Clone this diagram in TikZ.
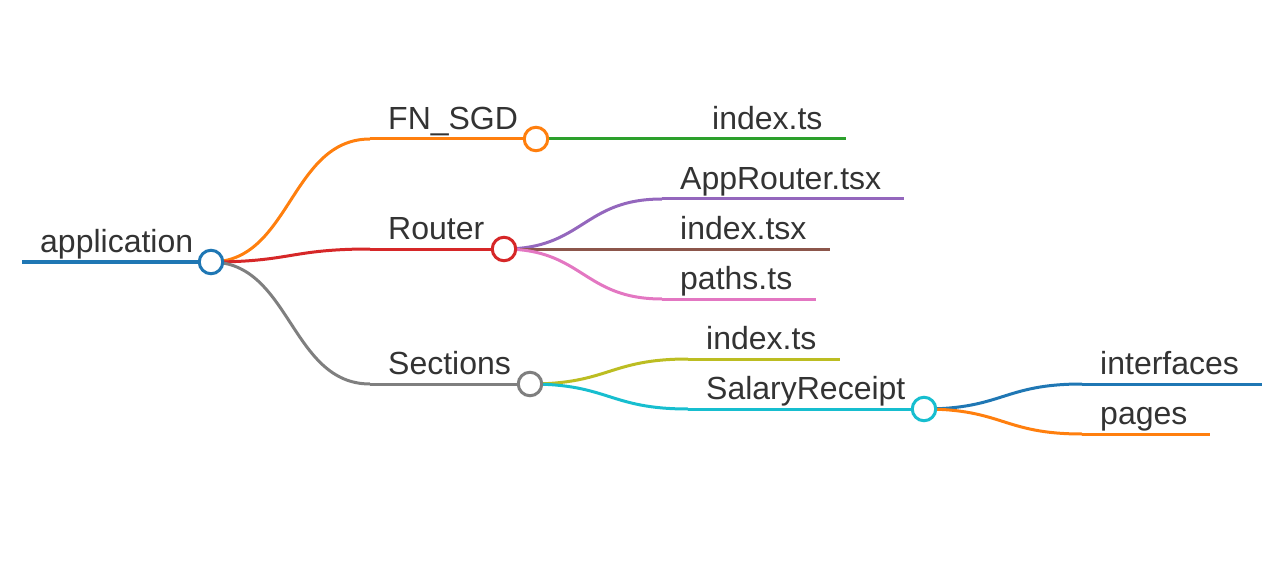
\documentclass[tikz,border=0pt]{standalone}
\usepackage{fontspec}
\setmainfont{Liberation Sans}
\usetikzlibrary{calc}
\definecolor{cBlue}{HTML}{1F77B4}
\definecolor{cOrange}{HTML}{FF7F0E}
\definecolor{cGreen}{HTML}{2CA02C}
\definecolor{cRed}{HTML}{D62728}
\definecolor{cPurple}{HTML}{9467BD}
\definecolor{cBrown}{HTML}{8C564B}
\definecolor{cPink}{HTML}{E377C2}
\definecolor{cGray}{HTML}{7F7F7F}
\definecolor{cOlive}{HTML}{BCBD22}
\definecolor{cCyan}{HTML}{17BECF}
\definecolor{cText}{HTML}{333333}
\tikzset{
  lbl/.style={anchor=base west, inner sep=0pt, text=cText, font=\fontsize{32}{32}\selectfont},
  dot/.style={circle, draw=#1, line width=3pt, fill=white, minimum size=23.5pt, inner sep=0pt},
  bar/.style={draw=#1, line width=3pt},
  link/.style={draw=#1, line width=3pt, to path={let \p1=(\tikztostart), \p2=(\tikztotarget) in .. controls ({(\x1+\x2)/2},\y1) and ({(\x1+\x2)/2},\y2) .. (\p2)}}
}
\begin{document}
\begin{tikzpicture}[x=1pt,y=-1pt]
\useasboundingbox (0,0) rectangle (1278,575);
% line start coordinates
\coordinate (s-app) at (22,262);
\coordinate (s-fn) at (370,139);
\coordinate (s-rt) at (370,249);
\coordinate (s-sec) at (370,384);
\coordinate (s-fnidx) at (694,139);
\coordinate (e-fnidx) at (846,139);
\coordinate (s-app2) at (662,199);
\coordinate (e-app2) at (904,199);
\coordinate (s-rtidx) at (662,249);
\coordinate (e-rtidx) at (830,249);
\coordinate (s-paths) at (662,299);
\coordinate (e-paths) at (816,299);
\coordinate (s-secidx) at (688,359);
\coordinate (e-secidx) at (840,359);
\coordinate (s-sal) at (688,409);
\coordinate (s-int) at (1082,384);
\coordinate (e-int) at (1262,384);
\coordinate (s-pg) at (1082,434);
\coordinate (e-pg) at (1210,434);
% circle positions
\coordinate (p-app) at (211,262);
\coordinate (p-fn) at (536,139);
\coordinate (p-rt) at (504,249);
\coordinate (p-sec) at (530,384);
\coordinate (p-sal) at (924,409);
% links
\path (p-app) edge[link=cOrange] (s-fn)
      (p-app) edge[link=cRed] (s-rt)
      (p-app) edge[link=cGray] (s-sec)
      (p-fn) edge[link=cGreen] (s-fnidx)
      (p-rt) edge[link=cPurple] (s-app2)
      (p-rt) edge[link=cBrown] (s-rtidx)
      (p-rt) edge[link=cPink] (s-paths)
      (p-sec) edge[link=cOlive] (s-secidx)
      (p-sec) edge[link=cCyan] (s-sal)
      (p-sal) edge[link=cBlue] (s-int)
      (p-sal) edge[link=cOrange] (s-pg);
% node lines
\draw[bar=cBlue, line width=4pt] (s-app) -- (p-app);
\draw[bar=cOrange] (s-fn) -- (p-fn);
\draw[bar=cRed] (s-rt) -- (p-rt);
\draw[bar=cGray] (s-sec) -- (p-sec);
\draw[bar=cGreen] (s-fnidx) -- (e-fnidx);
\draw[bar=cPurple] (s-app2) -- (e-app2);
\draw[bar=cBrown] (s-rtidx) -- (e-rtidx);
\draw[bar=cPink] (s-paths) -- (e-paths);
\draw[bar=cOlive] (s-secidx) -- (e-secidx);
\draw[bar=cCyan] (s-sal) -- (p-sal);
\draw[bar=cBlue] (s-int) -- (e-int);
\draw[bar=cOrange] (s-pg) -- (e-pg);
% circles
\node[dot=cBlue] (c-app) at (p-app) {};
\node[dot=cOrange] (c-fn) at (p-fn) {};
\node[dot=cRed] (c-rt) at (p-rt) {};
\node[dot=cGray] (c-sec) at (p-sec) {};
\node[dot=cCyan] (c-sal) at (p-sal) {};
% labels
\node[lbl] (t-app) at (40,252.5) {application};
\node[lbl] (t-fn) at (388,129.5) {FN\_SGD};
\node[lbl] (t-rt) at (388,239.5) {Router};
\node[lbl] (t-sec) at (388,374.5) {Sections};
\node[lbl] (t-fnidx) at (712,129.5) {index.ts};
\node[lbl] (t-app2) at (680,189.5) {AppRouter.tsx};
\node[lbl] (t-rtidx) at (680,239.5) {index.tsx};
\node[lbl] (t-paths) at (680,289.5) {paths.ts};
\node[lbl] (t-secidx) at (706,349.5) {index.ts};
\node[lbl] (t-sal) at (706,399.5) {SalaryReceipt};
\node[lbl] (t-int) at (1100,374.5) {interfaces};
\node[lbl] (t-pg) at (1100,424.5) {pages};
\end{tikzpicture}
\end{document}
